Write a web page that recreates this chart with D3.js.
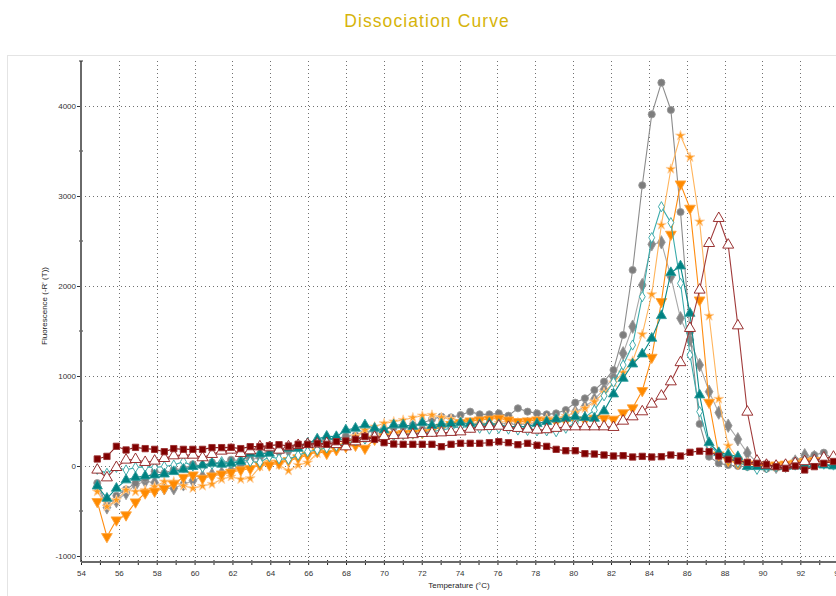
<!DOCTYPE html>
<html>
<head>
<meta charset="utf-8">
<script src="https://cdn.jsdelivr.net/npm/d3@7"></script>
<style>
  html, body { margin: 0; padding: 0; background: #fff; }
  svg { display: block; font-family: "Liberation Sans", Arial, sans-serif; }
</style>
</head>
<body>
<svg id="chart" width="836" height="596"></svg>
<script>
// Melt temperatures (°C) of each reading
const temperatures = [
  54.86, 55.37, 55.87, 56.38, 56.88, 57.39, 57.89, 58.40, 58.90, 59.41,
  59.91, 60.42, 60.92, 61.43, 61.93, 62.44, 62.94, 63.45, 63.95, 64.46,
  64.96, 65.47, 65.97, 66.48, 66.98, 67.49, 67.99, 68.50, 69.00, 69.51,
  70.01, 70.52, 71.02, 71.53, 72.03, 72.54, 73.04, 73.55, 74.05, 74.56,
  75.06, 75.57, 76.07, 76.58, 77.08, 77.59, 78.09, 78.60, 79.10, 79.61,
  80.11, 80.62, 81.12, 81.63, 82.13, 82.64, 83.14, 83.65, 84.15, 84.66,
  85.16, 85.67, 86.17, 86.68, 87.18, 87.69, 88.19, 88.70, 89.20, 89.71,
  90.21, 90.72, 91.22, 91.73, 92.23, 92.74, 93.24, 93.75, 94.25
];

// -R'(T) per well
const wellSquare = [
  78, 107, 219, 178, 207, 193, 185, 159, 193, 185,
  185, 185, 204, 204, 207, 193, 215, 215, 226, 237,
  222, 241, 241, 252, 241, 270, 278, 296, 326, 296,
  259, 244, 241, 241, 241, 241, 215, 241, 252, 252,
  252, 259, 270, 259, 237, 252, 230, 218, 185, 170,
  170, 137, 133, 122, 111, 115, 100, 107, 100, 104,
  122, 111, 152, 165, 159, 110, 74, 56, 41, 30,
  19, -7, -26, 0, -44, -7, 30, 50, 40
];
const wellOpenTriangle = [
  -44, -130, -15, 67, 74, 41, 56, 85, 115, 122,
  122, 93, 130, 167, 178, 141, 170, 215, 204, 178,
  215, 230, 240, 245, 252, 240, 215, 270, 307, 320,
  330, 340, 344, 350, 363, 365, 370, 375, 381, 410,
  437, 440, 444, 430, 419, 410, 400, 405, 420, 437,
  437, 437, 437, 437, 430, 500, 548, 604, 689, 778,
  937, 1150, 1530, 1956, 2474, 2752, 2456, 1559, 600, 56,
  10, 0, 10, 30, 50, 60, 90, 100, 60
];
const wellCircle = [
  -190, -440, -330, -260, -190, -140, -60, -80, -40, -30,
  20, 0, 40, 30, 70, 60, 100, 130, 160, 180,
  200, 220, 250, 270, 290, 300, 330, 340, 370, 390,
  410, 430, 440, 456, 474, 519, 548, 540, 567, 604,
  574, 574, 585, 559, 641, 604, 585, 574, 585, 622,
  704, 752, 844, 937, 1067, 1456, 2178, 3119, 3907, 4259,
  3956, 2822, 1492, 467, 103, 30, 10, 0, -10, -20,
  -30, -20, 10, 60, 80, 122, 148, 74, 60
];
const wellDiamond = [
  -230, -460, -390, -300, -210, -170, -185, -248, -248, -204,
  -163, -119, -96, -81, -52, 11, 67, 96, 122, 159,
  170, 215, 240, 250, 270, 280, 300, 310, 320, 340,
  330, 360, 380, 400, 410, 420, 430, 440, 450, 455,
  460, 465, 470, 470, 460, 470, 480, 490, 510, 550,
  600, 660, 740, 850, 990, 1252, 1548, 2011, 2463, 2485,
  2104, 1641, 1400, 1122, 826, 593, 448, 297, 144, 40,
  0, -10, 0, 50, 120, 100, 80, 60, 50
];
const wellStar = [
  -285, -452, -378, -267, -285, -267, -230, -174, -174, -219,
  -248, -222, -200, -148, -119, -148, -137, -7, 48, 11,
  -52, 11, 37, 141, 189, 215, 252, 330, 400, 437,
  474, 493, 511, 537, 559, 567, 540, 520, 500, 480,
  470, 460, 480, 500, 480, 470, 500, 530, 530, 556,
  593, 641, 715, 815, 926, 1037, 1167, 1463, 1907, 2678,
  3300, 3670, 3430, 2715, 1667, 745, 225, 80, 37, 10,
  0, -10, 10, 20, 30, 40, 50, 60, 50
];
const wellDownTriangle = [
  -396, -785, -600, -544, -400, -300, -280, -250, -200, -126,
  -100, -137, -111, -90, -70, -44, -30, 11, 11, 30,
  60, 90, 120, 159, 140, 180, 215, 230, 196, 296,
  330, 350, 360, 365, 370, 400, 430, 460, 480, 500,
  511, 520, 530, 510, 493, 500, 511, 500, 493, 500,
  510, 511, 530, 530, 519, 590, 645, 837, 1207, 1826,
  2574, 3133, 2863, 1844, 707, 122, 60, 30, 20, 10,
  0, 10, 20, 30, 50, 60, 50, 40, 30
];
const wellTriangle = [
  -222, -359, -248, -155, -126, -111, -100, -90, -63, -37,
  -7, 10, 30, 19, 30, 48, 141, 133, 141, 178,
  196, 196, 250, 300, 330, 326, 400, 419, 456, 419,
  400, 456, 456, 440, 481, 450, 467, 470, 481, 470,
  460, 474, 460, 437, 437, 437, 470, 493, 520, 530,
  548, 537, 530, 611, 800, 974, 1133, 1244, 1419, 1670,
  2148, 2222, 1696, 789, 259, 148, 130, 104, -7, -7,
  -10, -10, -5, 0, 11, 20, 10, 0, -5
];
const wellOpenDiamond = [
  -37, -81, -15, -44, -15, -10, -15, -5, 11, 48,
  0, -15, 20, 48, 30, 67, 50, 40, 104, 80,
  74, 120, 159, 180, 200, 220, 250, 280, 300, 320,
  330, 340, 350, 360, 370, 380, 400, 420, 437, 430,
  420, 410, 419, 410, 400, 395, 390, 390, 381, 420,
  480, 540, 620, 780, 930, 1122, 1344, 1881, 2537, 2881,
  2704, 2030, 1233, 604, 233, 133, 85, 40, 0, -37,
  -20, -10, 0, 10, 20, 30, 20, 10, 0
];

const xTickValues = d3.range(54, 95, 1);
const yTickValues = [-1000, 0, 1000, 2000, 3000, 4000];
const yMinorTicks = [-500, 500, 1500, 2500, 3500];

const svg = d3.select('#chart');
const W = 836;

const x = d3.scaleLinear().domain([54, 94]).range([81, 838.2]);
const y = d3.scaleLinear().domain([-1000, 4000]).range([556, 106]);
const yTop = y(4500), yBottom = 562;

// frame
svg.append('rect')
  .attr('x', 7.5).attr('y', 55.5)
  .attr('width', 900).attr('height', 600)
  .attr('fill', 'none').attr('stroke', '#e4e4e4');

// title
svg.append('text')
  .attr('x', 427).attr('y', 27)
  .attr('text-anchor', 'middle')
  .attr('fill', '#d6b40a')
  .style('font-size', '17.5px')
  .style('letter-spacing', '1.1px')
  .text('Dissociation Curve');

// grid
const grid = svg.append('g').attr('stroke', '#707070').attr('stroke-dasharray', '1,3');
grid.selectAll('line.h').data(yTickValues).join('line')
  .attr('x1', x(54)).attr('x2', W)
  .attr('y1', d => Math.round(y(d)) + 0.5).attr('y2', d => Math.round(y(d)) + 0.5);
grid.selectAll('line.v').data(xTickValues.filter(d => d % 2 === 0 && d > 54)).join('line')
  .attr('x1', d => Math.round(x(d)) + 0.5).attr('x2', d => Math.round(x(d)) + 0.5)
  .attr('y1', yTop).attr('y2', yBottom);

// y axis
const yAxis = svg.append('g')
  .attr('transform', `translate(${x(54)},0)`)
  .call(d3.axisLeft(y).tickValues(yTickValues).tickSize(4).tickPadding(1).tickFormat(d => String(d)));
yAxis.select('.domain').remove();
yAxis.selectAll('.tick line').attr('stroke', '#333');
yAxis.selectAll('.tick text').attr('fill', '#333').style('font-size', '8px');

svg.append('g').selectAll('line').data(yMinorTicks).join('line')
  .attr('x1', x(54) - 2).attr('x2', x(54) + 2)
  .attr('y1', d => y(d)).attr('y2', d => y(d))
  .attr('stroke', '#333');

svg.append('line')
  .attr('x1', x(54)).attr('x2', x(54))
  .attr('y1', yTop).attr('y2', yBottom)
  .attr('stroke', '#6a6a6a').attr('stroke-width', 2);
svg.append('line')
  .attr('x1', x(54) - 2).attr('x2', x(54) + 2)
  .attr('y1', yTop).attr('y2', yTop)
  .attr('stroke', '#333');

// x axis
const xAxis = svg.append('g')
  .attr('transform', `translate(0,${yBottom})`)
  .call(d3.axisBottom(x).tickValues(xTickValues).tickSize(3).tickPadding(5)
    .tickFormat(d => d % 2 === 0 ? String(d) : ''));
xAxis.select('.domain').remove();
xAxis.selectAll('.tick line').attr('y1', -2).attr('stroke', '#222');
xAxis.selectAll('.tick text').attr('fill', '#333').style('font-size', '8px');

svg.append('line')
  .attr('x1', x(54)).attr('x2', W)
  .attr('y1', yBottom).attr('y2', yBottom)
  .attr('stroke', '#6a6a6a').attr('stroke-width', 2);

// axis titles
svg.append('text')
  .attr('x', 459).attr('y', 588)
  .attr('text-anchor', 'middle')
  .attr('fill', '#222')
  .style('font-size', '8px')
  .text('Temperature (°C)');
svg.append('text')
  .attr('transform', 'translate(46.5,306) rotate(-90)')
  .attr('text-anchor', 'middle')
  .attr('fill', '#222')
  .style('font-size', '8px')
  .text("Fluorescence (-R' (T))");

// curves
const series = [
  { values: wellDiamond, line: '#a8a8a8', type: d3.symbolDiamond, size: 52, fill: '#858585', stroke: '#9a9a9a' },
  { values: wellCircle, line: '#8c8c8c', type: d3.symbolCircle, size: 40, fill: '#7d7d7d', stroke: '#9a9a9a' },
  { values: wellStar, line: '#ffb45c', type: d3.symbolStar, size: 30, fill: '#ff9a1c', stroke: '#ffd0a0' },
  { values: wellDownTriangle, line: '#ff8c10', type: d3.symbolTriangle, size: 50, fill: '#ff8a00', stroke: '#ffa640', rotate: 180 },
  { values: wellOpenDiamond, line: '#3aabab', type: d3.symbolDiamond, size: 30, fill: '#ffffff', stroke: '#30a4a4' },
  { values: wellTriangle, line: '#0a8a8a', type: d3.symbolTriangle, size: 44, fill: '#008282', stroke: '#2a9a9a' },
  { values: wellOpenTriangle, line: '#a03a3a', type: d3.symbolTriangle, size: 52, fill: '#ffffff', stroke: '#8e1c1c' },
  { values: wellSquare, line: '#8a2020', type: d3.symbolSquare, size: 40, fill: '#800000', stroke: '#9a3030' }
];

const lineGen = d3.line().x(d => x(d[0])).y(d => y(d[1]));

series.forEach(s => {
  const pts = temperatures.map((t, i) => [t, s.values[i]]);
  const g = svg.append('g');
  g.append('path')
    .attr('d', lineGen(pts))
    .attr('fill', 'none')
    .attr('stroke', s.line)
    .attr('stroke-width', 1.1);
  g.selectAll('path.m').data(pts).join('path')
    .attr('class', 'm')
    .attr('d', d3.symbol().type(s.type).size(s.size))
    .attr('transform', d => `translate(${x(d[0])},${y(d[1])})${s.rotate ? ` rotate(${s.rotate})` : ''}`)
    .attr('fill', s.fill)
    .attr('stroke', s.stroke)
    .attr('stroke-width', 0.9);
});
</script>
</body>
</html>
